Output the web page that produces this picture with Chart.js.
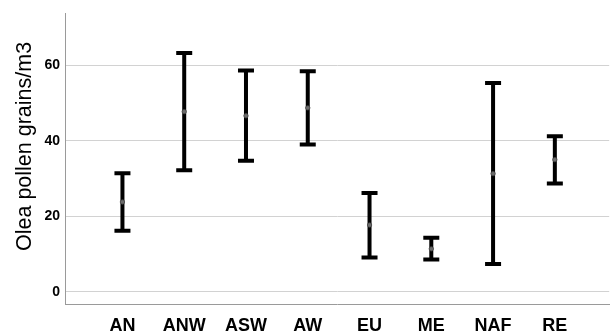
<!DOCTYPE html>
<html>
<head>
<meta charset="utf-8">
<script src="https://cdn.jsdelivr.net/npm/chart.js@4"></script>
<style>
  html, body { margin: 0; padding: 0; background: #fff; }
  #wrap { width: 614px; height: 334px; }
</style>
</head>
<body>
<div id="wrap"><canvas id="c" width="614" height="334"></canvas></div>
<script>
// Regions and their pollen concentration summaries (mean with interval)
const categories = ['AN', 'ANW', 'ASW', 'AW', 'EU', 'ME', 'NAF', 'RE'];
const means      = [23.8, 47.7, 46.6, 48.7, 17.7, 11.4, 31.3, 35.0];
const lowers     = [16.2, 32.2, 34.7, 39.0,  9.1,  8.6,  7.4, 28.7];
const uppers     = [31.4, 63.2, 58.6, 58.4, 26.2, 14.3, 55.3, 41.2];
const yTicks     = [0, 20, 40, 60];
const yTitle     = 'Olea pollen grains/m3';

const meanPoints = means.map((m, i) => ({ x: i, y: m }));

// Draws the interval whiskers with caps for each category
const errorBars = {
  id: 'errorBars',
  beforeDatasetsDraw(chart) {
    const { ctx, scales: { x, y } } = chart;
    ctx.save();
    ctx.strokeStyle = '#000';
    ctx.lineWidth = 4;
    ctx.lineCap = 'butt';
    const capHalf = 8;
    categories.forEach((c, i) => {
      const px = x.getPixelForValue(i);
      const top = y.getPixelForValue(uppers[i]);
      const bot = y.getPixelForValue(lowers[i]);
      ctx.beginPath();
      ctx.moveTo(px, top);
      ctx.lineTo(px, bot);
      ctx.moveTo(px - capHalf, top);
      ctx.lineTo(px + capHalf, top);
      ctx.moveTo(px - capHalf, bot);
      ctx.lineTo(px + capHalf, bot);
      ctx.stroke();
    });
    ctx.restore();
  }
};

// Rotated y-axis title, centred a little above the middle of the axis
const yAxisTitle = {
  id: 'yAxisTitle',
  afterDraw(chart) {
    const { ctx, scales: { y } } = chart;
    ctx.save();
    ctx.translate(25, y.getPixelForValue(38.5));
    ctx.rotate(-Math.PI / 2);
    ctx.font = '21.5px "Liberation Sans", Arial, sans-serif';
    ctx.fillStyle = '#000';
    ctx.textAlign = 'center';
    ctx.textBaseline = 'middle';
    ctx.fillText(yTitle, 0, 0);
    ctx.restore();
  }
};

new Chart(document.getElementById('c'), {
  type: 'scatter',
  data: {
    datasets: [{
      data: meanPoints,
      pointRadius: 2.2,
      pointBackgroundColor: '#6b6b6b',
      pointBorderColor: '#444',
      pointBorderWidth: 0.8
    }]
  },
  options: {
    responsive: false,
    animation: false,
    devicePixelRatio: 1,
    layout: { padding: { top: 12, right: 0, left: 0, bottom: 0 } },
    plugins: { legend: { display: false }, tooltip: { enabled: false } },
    scales: {
      x: {
        type: 'linear',
        min: -0.93,
        max: 7.88,
        afterBuildTicks: axis => { axis.ticks = categories.map((c, i) => ({ value: i })); },
        afterFit: scale => { scale.height = 30; },
        ticks: {
          callback: v => categories[v],
          color: '#000',
          font: { family: 'Liberation Sans, Arial, sans-serif', size: 18, weight: 'bold' },
          padding: 11,
          maxRotation: 0,
          autoSkip: false
        },
        grid: { display: false, drawTicks: false },
        border: { display: true, color: '#9a9a9a', width: 1 }
      },
      y: {
        min: -3.2,
        max: 73.7,
        afterBuildTicks: axis => { axis.ticks = yTicks.map(v => ({ value: v })); },
        afterFit: scale => { scale.width = 65; },
        ticks: {
          color: '#000',
          font: { family: 'Liberation Sans, Arial, sans-serif', size: 14, weight: 'bold' },
          padding: 5
        },
        grid: { color: '#d2d2d2', lineWidth: 1, drawTicks: false },
        border: { display: true, color: '#9a9a9a', width: 1 },
        title: { display: false }
      }
    }
  },
  plugins: [errorBars, yAxisTitle]
});
</script>
</body>
</html>
